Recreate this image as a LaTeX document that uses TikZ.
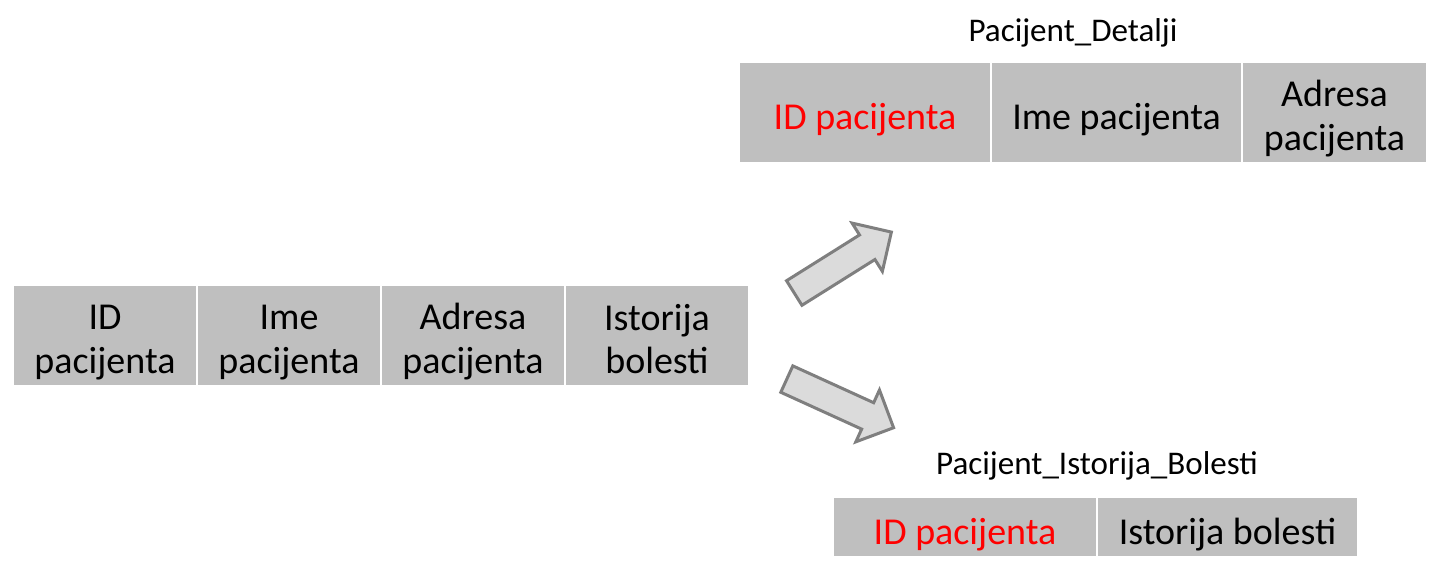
\documentclass[tikz,border=0pt]{standalone}
\usepackage{fontspec}
\setmainfont{Carlito}
\usetikzlibrary{positioning,shapes.arrows}
\definecolor{cellgray}{HTML}{BFBFBF}
\definecolor{arrowgray}{HTML}{7F7F7F}
\definecolor{arrowfill}{HTML}{DBDBDB}
% dva reda teksta u celiji
\newcommand{\dvareda}[2]{#1\rule{0pt}{29pt}\\#2}

\begin{document}
\begin{tikzpicture}[x=1pt,y=1pt,node distance=0pt,
    cell/.style={rectangle,draw=white,line width=1.5pt,fill=cellgray,align=center,outer sep=0pt,
      inner sep=0pt,minimum height=75.75pt,font=\fontsize{28.5}{32.5}\selectfont,
      execute at begin node={\rule{0pt}{31pt}},execute at end node={\rule[-4pt]{0pt}{4pt}}},
    key cell/.style={cell,text=red},
    title node/.style={font=\fontsize{24.8}{29}\selectfont},
    block arrow/.style={single arrow,draw=arrowgray,fill=arrowfill,line width=2.25pt,
      inner xsep=0pt,inner ysep=9.75pt,single arrow head extend=10.5pt}]
  \useasboundingbox (0,0) rectangle (1081.5,429);

  % polazna tabela
  \node[cell,minimum width=138pt,anchor=north west] (id) at (9.75,215.25) {\dvareda{ID}{pacijenta}};
  \node[cell,minimum width=138pt] (ime) [right=of id] {\dvareda{Ime}{pacijenta}};
  \node[cell,minimum width=138pt] (adresa) [right=of ime] {\dvareda{Adresa}{pacijenta}};
  \node[cell,minimum width=138pt] (istorija) [right=of adresa] {\dvareda{Istorija}{bolesti}};

  % Pacijent_Detalji
  \node[title node] (detalji) at (804.75,404.25) {Pacijent\_Detalji};
  \node[key cell,minimum width=189pt,anchor=north west] (did) at (554.25,382.5) {ID pacijenta};
  \node[cell,minimum width=188.25pt] (dime) [right=of did] {Ime pacijenta};
  \node[cell,minimum width=138.75pt] (dadresa) [right=of dime] {\dvareda{Adresa}{pacijenta}};

  % Pacijent_Istorija_Bolesti
  \node[title node] (bolesti) at (822.75,79.5) {Pacijent\_Istorija\_Bolesti};
  \node[key cell,minimum width=198pt,minimum height=45pt,anchor=north west] (iid) at (624.75,56.25) {ID pacijenta};
  \node[cell,minimum width=195.75pt,minimum height=45pt] (iistorija) [right=of iid] {Istorija bolesti};

  % strelice
  \node[block arrow,minimum height=86pt,rotate=32.1] (gore) at (627.5,229.2) {};
  \node[block arrow,minimum height=88pt,rotate=-24.5] (dole) at (625.2,128.7) {};

\end{tikzpicture}
\end{document}
